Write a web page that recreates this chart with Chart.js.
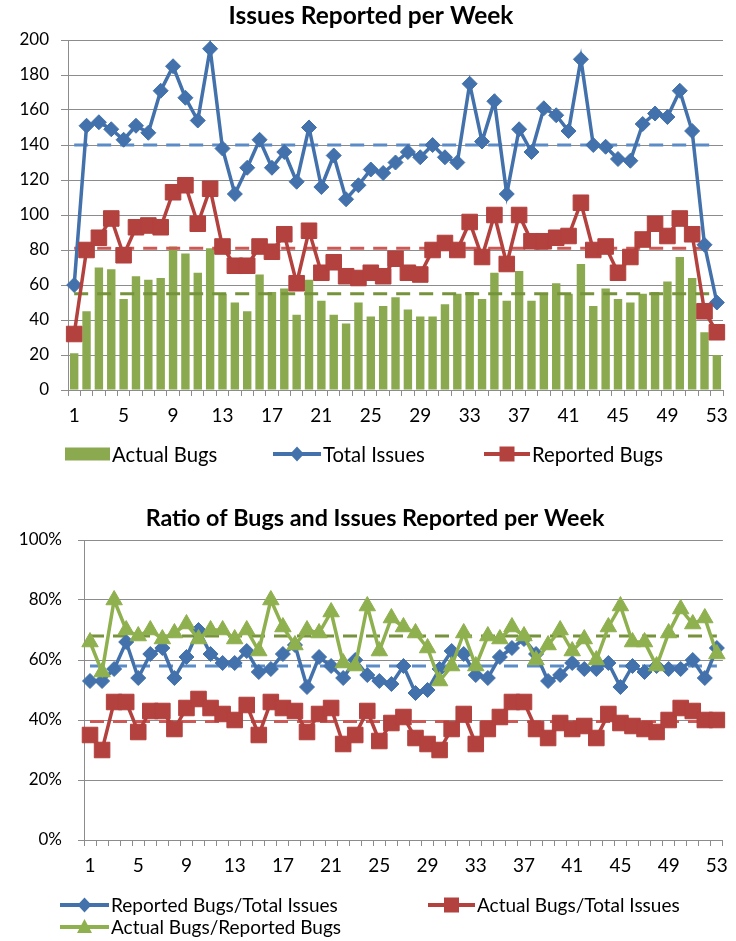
<!DOCTYPE html>
<html><head><meta charset="utf-8">
<script src="https://cdn.jsdelivr.net/npm/chart.js@4.4.0/dist/chart.umd.min.js"></script>
<style>
html,body{margin:0;padding:0;background:#fff;width:736px;height:941px;overflow:hidden}
canvas{position:absolute;left:0;display:block}
#c1{top:0}
#c2{top:480px}
</style></head><body>
<canvas id="c1" width="736" height="480"></canvas>
<canvas id="c2" width="736" height="461"></canvas>
<script>
// ---------- data ----------
const weeks = [1,2,3,4,5,6,7,8,9,10,11,12,13,14,15,16,17,18,19,20,21,22,23,24,25,26,27,28,29,30,31,32,33,34,35,36,37,38,39,40,41,42,43,44,45,46,47,48,49,50,51,52,53];
const actualBugs = [21,45,70,69,52,65,63,64,82,78,67,81,55,50,45,66,56,58,43,63,51,43,38,50,42,48,53,46,42,42,49,55,56,52,67,51,68,51,55,61,55,72,48,58,52,50,55,56,62,76,64,33,20];
const totalIssues = [60,151,153,149,143,151,147,171,185,167,154,195,138,112,127,143,127,136,119,150,116,134,109,117,126,124,130,136,133,140,133,130,175,142,165,112,149,136,161,157,148,189,140,139,132,131,152,158,156,171,148,83,50];
const reportedBugs = [32,80,87,98,77,93,94,93,113,117,95,115,82,71,71,82,79,89,61,91,67,73,65,64,67,65,75,67,66,80,84,80,96,76,100,72,100,85,85,87,88,107,80,82,67,76,86,95,88,98,89,45,33];
const avgTotalIssues = 140;
const avgReportedBugs = 81;
const avgActualBugs = 55;

const reportedPerTotal = [53,53,57,66,54,62,64,54,61,70,62,59,59,63,56,57,62,65,51,61,58,54,60,55,53,52,58,49,50,57,63,62,55,54,61,64,67,62,53,55,59,57,57,59,51,58,56,58,57,57,60,54,64];
const actualPerTotal = [35,30,46,46,36,43,43,37,44,47,44,42,40,45,35,46,44,43,36,42,44,32,35,43,33,39,41,34,32,30,37,42,32,37,41,46,46,37,34,39,37,38,34,42,39,38,37,36,40,44,43,40,40];
const actualPerReported = [66,56,80,70,68,70,67,69,72,67,70,70,67,70,63,80,71,65,70,69,76,59,58,78,63,74,71,69,64,53,58,69,58,68,67,71,68,60,65,70,63,67,60,71,78,66,66,58,69,77,72,74,62];
const avgReportedPerTotal = 58;
const avgActualPerTotal = 39.5;
const avgActualPerReported = 68;

const xTickLabels = ['1','5','9','13','17','21','25','29','33','37','41','45','49','53'];
const yTicksTop = [0,20,40,60,80,100,120,140,160,180,200];
const yTicksBottom = ['0%','20%','40%','60%','80%','100%'];

// ---------- styles ----------
const FONT = 'Lato';
const C_BLUE = '#4271AB', C_RED = '#B3413E', C_GREEN = '#8BA94F', C_GREEN_LINE = '#8FB04E';
const C_BLUE_D = '#5B8CC8', C_RED_D = '#CD5956', C_GREEN_D = '#76923B';
const GRID = '#8C8C8C';
Chart.defaults.color = '#000';
Chart.defaults.font.family = FONT;
Chart.defaults.animation = false;

const flat = v => weeks.map(() => v);

function symbol(ctx, kind, color, x0, x1, y) {
  ctx.save();
  ctx.fillStyle = color; ctx.strokeStyle = color;
  if (kind === 'box') { ctx.fillRect(x0, y - 6.5, x1 - x0, 13); ctx.restore(); return; }
  ctx.lineWidth = 4; ctx.lineCap = 'butt';
  ctx.beginPath(); ctx.moveTo(x0, y); ctx.lineTo(x1, y); ctx.stroke();
  const cx = (x0 + x1) / 2;
  ctx.beginPath();
  if (kind === 'diamond') { ctx.moveTo(cx, y - 7.5); ctx.lineTo(cx + 7, y); ctx.lineTo(cx, y + 7.5); ctx.lineTo(cx - 7, y); }
  else if (kind === 'square') { ctx.rect(cx - 7.5, y - 7.5, 15, 15); }
  else if (kind === 'triangle') { ctx.moveTo(cx, y - 8); ctx.lineTo(cx + 7.5, y + 6); ctx.lineTo(cx - 7.5, y + 6); }
  ctx.closePath(); ctx.fill();
  ctx.restore();
}

function decorPlugin(title, titleSize, titleX, titleY, legendSize, items) {
  return {
    id: 'decor',
    afterDraw(chart) {
      const ctx = chart.ctx;
      ctx.save();
      ctx.fillStyle = '#000';
      ctx.font = 'bold ' + titleSize + 'px ' + FONT;
      ctx.textAlign = 'center'; ctx.textBaseline = 'middle';
      ctx.fillText(title, titleX, titleY);
      ctx.font = legendSize + 'px ' + FONT;
      ctx.textAlign = 'left';
      for (const it of items) {
        symbol(ctx, it.kind, it.color, it.x0, it.x1, it.y);
        ctx.fillStyle = '#000';
        ctx.fillText(it.text, it.x1 + 2, it.y + 1);
      }
      ctx.restore();
    }
  };
}

function xAxis(height) {
  return {
    type: 'category',
    offset: true,
    grid: { offset: true, drawOnChartArea: false, drawTicks: true, tickLength: 6, color: GRID, lineWidth: 1 },
    border: { color: GRID, width: 1 },
    ticks: {
      autoSkip: false, maxRotation: 0, minRotation: 0, padding: 8,
      font: { size: 19, family: FONT },
      callback: function (v, i) { const l = String(weeks[i]); return xTickLabels.includes(l) ? l : ''; }
    },
    afterFit: s => { s.height = height; }
  };
}

// ---------- chart 1 ----------
new Chart(document.getElementById('c1'), {
  data: {
    labels: weeks,
    datasets: [
      { type: 'bar', label: 'Actual Bugs', data: actualBugs, backgroundColor: C_GREEN, barPercentage: 1, categoryPercentage: 0.68, order: 5 },
      { type: 'line', label: 'avgA', data: flat(avgActualBugs), borderColor: C_GREEN_D, borderWidth: 3, borderDash: [14, 9], pointRadius: 0, order: 4 },
      { type: 'line', label: 'avgT', data: flat(avgTotalIssues), borderColor: C_BLUE_D, borderWidth: 3, borderDash: [14, 9], pointRadius: 0, order: 4 },
      { type: 'line', label: 'avgR', data: flat(avgReportedBugs), borderColor: C_RED_D, borderWidth: 3, borderDash: [14, 9], pointRadius: 0, order: 4 },
      { type: 'line', label: 'Total Issues', data: totalIssues, borderColor: C_BLUE, borderWidth: 3.5, tension: 0,
        pointStyle: 'rectRot', pointRadius: 7.5, pointBackgroundColor: C_BLUE, pointBorderColor: C_BLUE, pointBorderWidth: 1, order: 2 },
      { type: 'line', label: 'Reported Bugs', data: reportedBugs, borderColor: C_RED, borderWidth: 3.5, tension: 0,
        pointStyle: 'rect', pointRadius: 11, pointBackgroundColor: C_RED, pointBorderColor: C_RED, pointBorderWidth: 1, order: 1 }
    ]
  },
  options: {
    responsive: false, devicePixelRatio: 1,
    layout: { padding: { top: 40, right: 6, left: 0, bottom: 0 } },
    plugins: { legend: { display: false }, tooltip: { enabled: false }, title: { display: false } },
    scales: {
      x: xAxis(90),
      y: {
        min: 0, max: 200,
        afterBuildTicks: s => { s.ticks = yTicksTop.map(v => ({ value: v })); },
        grid: { color: GRID, lineWidth: 1, tickLength: 7, drawTicks: true },
        border: { color: GRID, width: 1 },
        ticks: { padding: 12, font: { size: 17, family: FONT } },
        afterFit: s => { s.width = 68; }
      }
    }
  },
  plugins: [decorPlugin('Issues Reported per Week', 24.5, 371, 16, 20.3, [
    { kind: 'box', color: C_GREEN, x0: 65, x1: 110, y: 454, text: 'Actual Bugs' },
    { kind: 'diamond', color: C_BLUE, x0: 273, x1: 321, y: 454, text: 'Total Issues' },
    { kind: 'square', color: C_RED, x0: 484, x1: 530, y: 454, text: 'Reported Bugs' }
  ])]
});

// ---------- chart 2 ----------
new Chart(document.getElementById('c2'), {
  type: 'line',
  data: {
    labels: weeks,
    datasets: [
      { label: 'avgRT', data: flat(avgReportedPerTotal), borderColor: C_BLUE_D, borderWidth: 3, borderDash: [14, 9], pointRadius: 0, order: 6 },
      { label: 'avgAT', data: flat(avgActualPerTotal), borderColor: C_RED_D, borderWidth: 3, borderDash: [14, 9], pointRadius: 0, order: 6 },
      { label: 'avgAR', data: flat(avgActualPerReported), borderColor: C_GREEN_D, borderWidth: 3, borderDash: [14, 9], pointRadius: 0, order: 6 },
      { label: 'Actual Bugs/Total Issues', data: actualPerTotal, borderColor: C_RED, borderWidth: 3.5, tension: 0,
        pointStyle: 'rect', pointRadius: 11, pointBackgroundColor: C_RED, pointBorderColor: C_RED, pointBorderWidth: 1, order: 3 },
      { label: 'Reported Bugs/Total Issues', data: reportedPerTotal, borderColor: C_BLUE, borderWidth: 3.5, tension: 0,
        pointStyle: 'rectRot', pointRadius: 7.5, pointBackgroundColor: C_BLUE, pointBorderColor: C_BLUE, pointBorderWidth: 1, order: 2 },
      { label: 'Actual Bugs/Reported Bugs', data: actualPerReported, borderColor: C_GREEN_LINE, borderWidth: 3.5, tension: 0,
        pointStyle: 'triangle', pointRadius: 9.5, pointBackgroundColor: C_GREEN_LINE, pointBorderColor: C_GREEN_LINE, pointBorderWidth: 1, order: 1 }
    ]
  },
  options: {
    responsive: false, devicePixelRatio: 1,
    layout: { padding: { top: 60, right: 6, left: 0, bottom: 0 } },
    plugins: { legend: { display: false }, tooltip: { enabled: false }, title: { display: false } },
    scales: {
      x: xAxis(101),
      y: {
        min: 0, max: 100,
        afterBuildTicks: s => { s.ticks = yTicksBottom.map(t => ({ value: parseFloat(t) })); },
        grid: { color: GRID, lineWidth: 1, tickLength: 6, drawTicks: true },
        border: { color: GRID, width: 1 },
        ticks: { padding: 16, font: { size: 17, family: FONT }, callback: v => v + '%' },
        afterFit: s => { s.width = 84; }
      }
    }
  },
  plugins: [decorPlugin('Ratio of Bugs and Issues Reported per Week', 23.3, 375, 38, 19, [
    { kind: 'diamond', color: C_BLUE, x0: 60, x1: 109, y: 425, text: 'Reported Bugs/Total Issues' },
    { kind: 'square', color: C_RED, x0: 428, x1: 475, y: 425, text: 'Actual Bugs/Total Issues' },
    { kind: 'triangle', color: C_GREEN_LINE, x0: 60, x1: 109, y: 447, text: 'Actual Bugs/Reported Bugs' }
  ])]
});
</script>
</body></html>
